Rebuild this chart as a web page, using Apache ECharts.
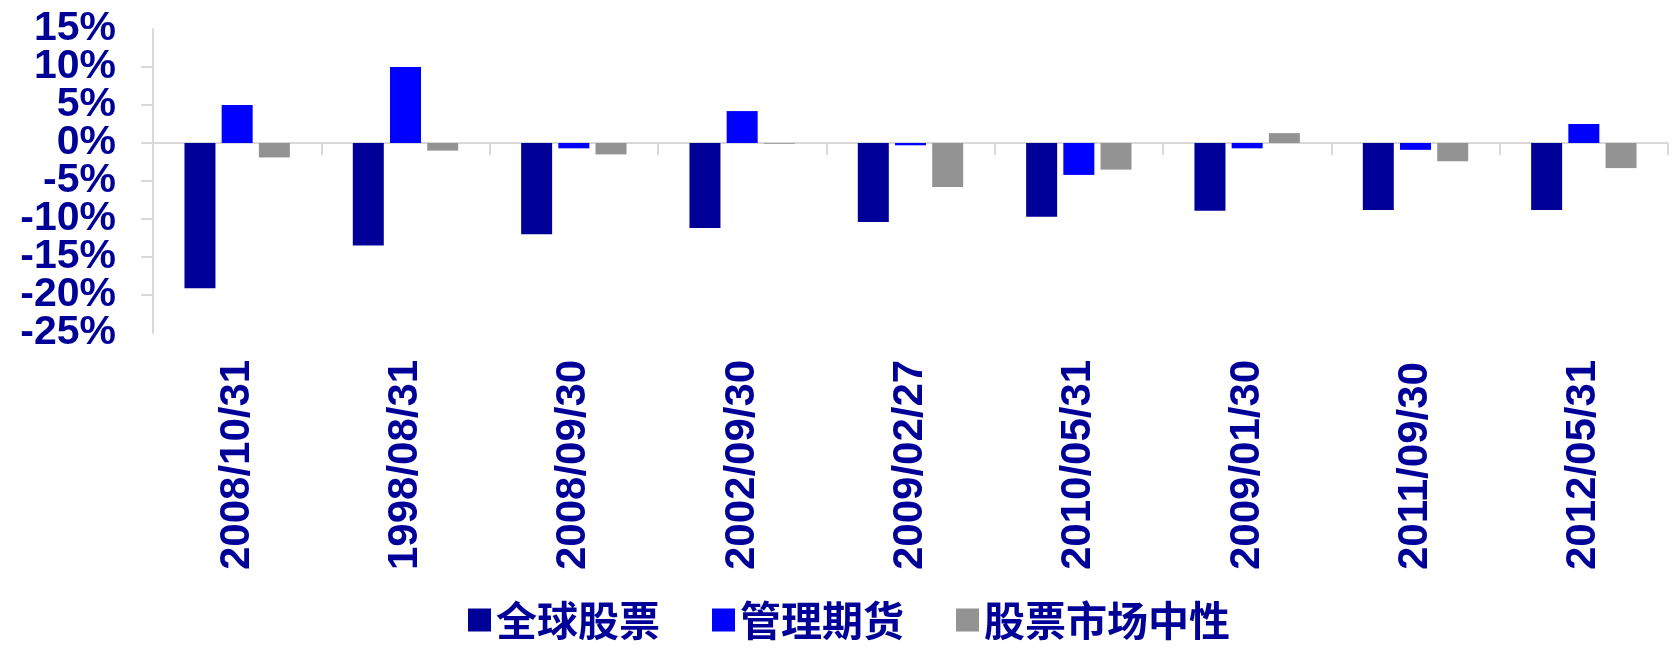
<!DOCTYPE html>
<html>
<head>
<meta charset="utf-8">
<script src="https://cdn.jsdelivr.net/npm/echarts@6/dist/echarts.min.js"></script>
<style>
  html, body { margin: 0; padding: 0; background: #fff; }
  #chart { width: 1680px; height: 651px; }
</style>
</head>
<body>
<div id="chart"></div>
<script>
// dates of the worst months for global equities
var categories = ['2008/10/31', '1998/08/31', '2008/09/30', '2002/09/30', '2009/02/27',
                  '2010/05/31', '2009/01/30', '2011/09/30', '2012/05/31'];
var seriesNames = ['全球股票', '管理期货', '股票市场中性'];
// monthly returns, %
var globalEquity = [-19.1, -13.5, -12.0, -11.2, -10.4, -9.7, -8.9, -8.8, -8.8];
var managedFutures = [5.0, 10.0, -0.7, 4.2, -0.3, -4.2, -0.7, -0.9, 2.5];
var marketNeutral = [-1.9, -1.0, -1.5, -0.1, -5.8, -3.5, 1.3, -2.4, -3.3];
// y axis range, %
var yMin = -25;
var yMax = 15;
var yStep = 5;

var navy = '#000099';
var axisGray = '#d9d9d9';

var myChart = echarts.init(document.getElementById('chart'));

var yLabelStyle = {
    margin: 37,
    color: navy,
    fontSize: 41,
    fontWeight: 'bold',
    fontFamily: '"Liberation Sans", Arial, sans-serif'
};

var option = {
    animation: false,
    color: [navy, '#0000ff', '#939393'],
    grid: {
        left: 153,
        right: 12,
        top: 29,
        bottom: 318,
        containLabel: false
    },
    legend: {
        data: seriesNames,
        left: 468,
        top: 599,
        padding: 0,
        icon: 'rect',
        itemWidth: 23,
        itemHeight: 23,
        itemGap: 52,
        textStyle: {
            color: navy,
            fontSize: 41,
            lineHeight: 42,
            fontWeight: 'bold',
            fontFamily: '"Noto Sans CJK SC", sans-serif'
        }
    },
    xAxis: [
        {
            // axis line sitting on 0%
            type: 'category',
            data: categories,
            axisLine: { onZero: true, lineStyle: { color: axisGray, width: 2 } },
            axisTick: { show: true, length: 12, lineStyle: { color: axisGray, width: 2 } },
            axisLabel: { show: false },
            splitLine: { show: false }
        },
        {
            // labels at the bottom of the plot
            type: 'category',
            data: categories,
            position: 'bottom',
            axisLine: { show: false, onZero: false },
            axisTick: { show: false },
            axisLabel: {
                rotate: 90,
                align: 'left',
                verticalAlign: 'middle',
                margin: 237,
                interval: 0,
                color: navy,
                fontSize: 42,
                fontWeight: 'bold',
                fontFamily: '"Liberation Sans", Arial, sans-serif'
            },
            splitLine: { show: false }
        }
    ],
    yAxis: [
        {
            // line, ticks and inner labels
            type: 'value',
            min: yMin,
            max: yMax,
            interval: yStep,
            axisLine: { show: true, lineStyle: { color: axisGray, width: 2 } },
            axisTick: { show: true, length: 12, lineStyle: { color: axisGray, width: 2 } },
            splitLine: { show: false },
            axisLabel: Object.assign({
                formatter: '{value}%',
                showMinLabel: false,
                showMaxLabel: false
            }, yLabelStyle)
        },
        {
            // only the end labels (15% and -25%)
            type: 'value',
            position: 'left',
            min: yMin,
            max: yMax,
            interval: yStep,
            axisLine: { show: false },
            axisTick: { show: false },
            splitLine: { show: false },
            axisLabel: Object.assign({
                formatter: function (v) {
                    return (v === yMin || v === yMax) ? v + '%' : '';
                },
                showMinLabel: true,
                showMaxLabel: true
            }, yLabelStyle)
        }
    ],
    series: [
        {
            name: seriesNames[0],
            type: 'bar',
            xAxisIndex: 0,
            yAxisIndex: 0,
            barWidth: 31,
            barGap: '20%',
            data: globalEquity
        },
        {
            name: seriesNames[1],
            type: 'bar',
            xAxisIndex: 0,
            yAxisIndex: 0,
            barWidth: 31,
            barGap: '20%',
            data: managedFutures
        },
        {
            name: seriesNames[2],
            type: 'bar',
            xAxisIndex: 0,
            yAxisIndex: 0,
            barWidth: 31,
            barGap: '20%',
            data: marketNeutral
        }
    ]
};

myChart.setOption(option);
</script>
</body>
</html>
